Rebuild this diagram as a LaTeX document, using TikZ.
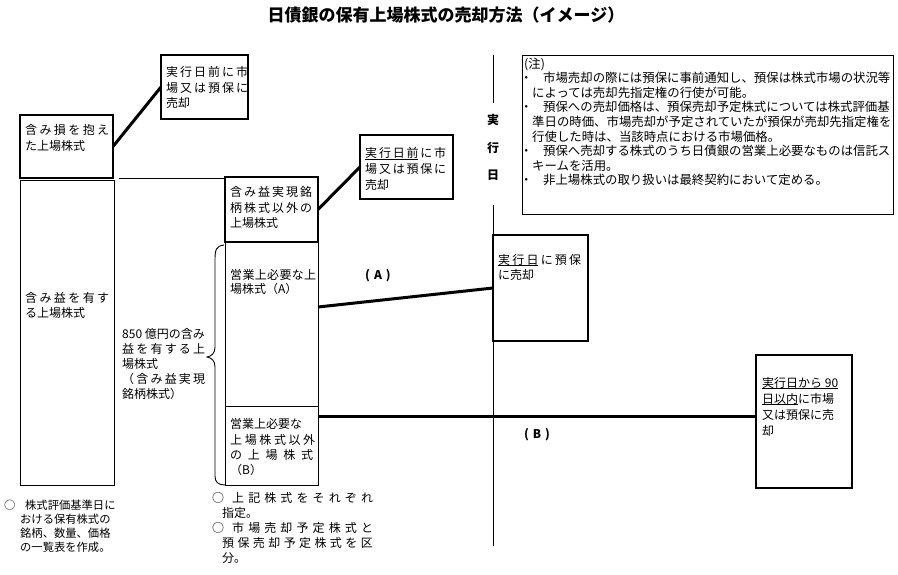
\documentclass[tikz,border=0pt]{standalone}
\usepackage{fontspec}
\setmainfont{Noto Sans CJK JP}
\newcommand\jg[2]{\def\jgap{#1}\jgfirst#2\relax}
\def\jgfirst#1{\ifx\relax#1\else #1\expandafter\jgnext\fi}
\def\jgnext#1{\ifx\relax#1\else\kern\jgap\relax #1\expandafter\jgnext\fi}
\tikzset{
  thickbox/.style={draw, line width=2.6pt, inner sep=0pt, outer sep=0pt, anchor=north west},
  thinbox/.style={draw, line width=0.9pt, inner sep=0pt, outer sep=0pt, anchor=north west},
  conn/.style={line width=3pt},
  thinline/.style={line width=0.9pt},
  uline/.style={line width=1pt},
  vline/.style={line width=1pt},
  jtxt/.style 2 args={inner sep=0pt, anchor=north west, align=left, font=\fontsize{#1}{#2}\selectfont},
  boldlbl/.style={inner sep=0pt, font=\bfseries\fontsize{12}{14}\selectfont}
}
\begin{document}
\begin{tikzpicture}[x=1pt,y=-1pt]
\useasboundingbox (0,0) rectangle (898,574);
% title
\node[font=\bfseries\fontsize{17}{20}\selectfont] (title) at (446,15) {日債銀の保有上場株式の売却方法（イメージ）};
% thin boxes
\node[thinbox, minimum width=94pt, minimum height=305pt] (b2) at (20,180) {};
\node[thinbox, minimum width=93pt, minimum height=164pt] (mA) at (225,242) {};
\node[thinbox, minimum width=93pt, minimum height=79pt] (mB) at (225,406) {};
\node[thinbox, minimum width=371pt, minimum height=159pt] (nb) at (522,55) {};
% thick boxes
\node[thickbox, minimum width=93pt, minimum height=63pt] (b1) at (20,115) {};
\node[thickbox, minimum width=87pt, minimum height=64pt] (t1) at (161,55) {};
\node[thickbox, minimum width=93pt, minimum height=65pt] (m1) at (225,177) {};
\node[thickbox, minimum width=93pt, minimum height=64pt] (t2) at (360,135) {};
\node[thickbox, minimum width=95pt, minimum height=106pt] (bE) at (493,235) {};
\node[thickbox, minimum width=96pt, minimum height=133pt] (bF) at (756,355) {};
% box texts
\node[jtxt={12}{16}] (b1t) at (25,124.5) {\jg{2.4pt}{含み損を抱え}\\た上場株式};
\node[jtxt={12}{15.5}] (t1t) at (166,66.5) {\jg{2pt}{実行日前に市}\\\jg{2pt}{場又は預保に}\\売却};
\node[jtxt={12}{15}] (b2t) at (25,292.5) {\jg{2.4pt}{含み益を有す}\\る上場株式};
\node[jtxt={12}{15.5}] (m1t) at (230,186.5) {\jg{2pt}{含み益実現銘}\\\jg{2pt}{柄株式以外の}\\上場株式};
\node[jtxt={12}{13.5}] (mAt) at (230,269.5) {\jg{0.33pt}{営業上必要な上}\\場株式（A）};
\node[jtxt={12}{15.3}] (mBt) at (230,418.5) {営業上必要な\\\jg{2.6pt}{上場株式以外}\\\jg{5.75pt}{の上場株式}\\（B）};
\node[jtxt={12}{16}] (t2t) at (365,147.5) {\jg{1.8pt}{実行日前に市}\\\jg{1.8pt}{場又は預保に}\\売却};
\node[jtxt={12}{15}] (bEt) at (498,254.5) {\jg{2.2pt}{実行日に預保}\\に売却};
\node[jtxt={12}{16}] (bFt) at (762,377.5) {実行日から 90\\日以内に市場\\又は預保に売\\却};
\node[jtxt={12}{15}] (t850) at (122,328.5) {850 億円の含み\\\jg{2.2pt}{益を有する上}\\場株式\\\jg{2.2pt}{（含み益実現}\\銘柄株式）};
% underlines
\draw[uline] ([shift={(0,12)}]t2t.north west) -- ++(53.4,0);
\draw[uline] ([shift={(0,11)}]bEt.north west) -- ++(40.4,0);
\draw[uline] ([shift={(0,11)}]bFt.north west) -- ++(76,0);
\draw[uline] ([shift={(0,27)}]bFt.north west) -- ++(36,0);
% notes
\node[jtxt={12.4}{14.6}] (nt) at (522,57.4) {\kern2pt(注)\\
\makebox[8pt]{・}\kern13pt 市場売却の際には預保に事前通知し、預保は株式市場の状況等\\
\kern10pt によっては売却先指定権の行使が可能。\\
\makebox[8pt]{・}\kern13pt 預保への売却価格は、預保売却予定株式については株式評価基\\
\kern10pt 準日の時価、市場売却が予定されていたが預保が売却先指定権を\\
\kern10pt 行使した時は、当該時点における市場価格。\\
\makebox[8pt]{・}\kern13pt 預保へ売却する株式のうち日債銀の営業上必要なものは信託ス\\
\kern10pt キームを活用。\\
\makebox[8pt]{・}\kern13pt 非上場株式の取り扱いは最終契約において定める。};
% bottom texts
\node[jtxt={11.3}{14}] (bl) at (4,499.8) {○\kern9.7pt 株式評価基準日に\\\kern16pt おける保有株式の\\\kern16pt 銘柄、数量、価格\\\kern16pt の一覧表を作成。};
\node[jtxt={12}{15}] (bm) at (212,492.5) {○\kern8pt\jg{4.1pt}{上記株式をそれぞれ}\\\kern10pt 指定。\\○\kern8pt\jg{4.1pt}{市場売却予定株式と}\\\kern10pt\jg{3.4pt}{預保売却予定株式を区}\\\kern10pt 分。};
% execution day line
\node[inner sep=0pt, align=center, font=\bfseries\fontsize{12}{27.5}\selectfont] (vl) at (493,147.5) {実\\行\\日};
\coordinate (v1) at (493,55);
\coordinate (v2) at (493,103);
\coordinate (v3) at (493,205);
\coordinate (v4) at (493,546);
\draw[vline] (v1) -- (v2);
\draw[vline] (v3) -- (v4);
% labels
\node[boldlbl] (la) at (378,276) {(\kern4pt A\kern4pt)};
\node[boldlbl] (lb) at (537,435) {(\kern4pt B\kern4pt)};
% connectors
\draw[conn] (b1.east) -- (t1.west);
\draw[conn] (m1.east) -- (t2.west);
\draw[conn] ([yshift=17pt]mA.east) -- (bE.west);
\draw[conn] ([yshift=29.5pt]mB.east) coordinate (bs) -- (bs -| bF.west);
\draw[thinline] ([xshift=6pt]b1.south east) -- (b1.south east -| m1.west);
% brace
\draw[thinline] (224,245) .. controls (216,246) and (215,250) .. (215,260) -- (215,347) .. controls (215,353) and (212,356) .. (207,357) .. controls (212,358) and (215,361) .. (215,367) -- (215,476) .. controls (215,482) and (218,485) .. (225,485);
\end{tikzpicture}
\end{document}
